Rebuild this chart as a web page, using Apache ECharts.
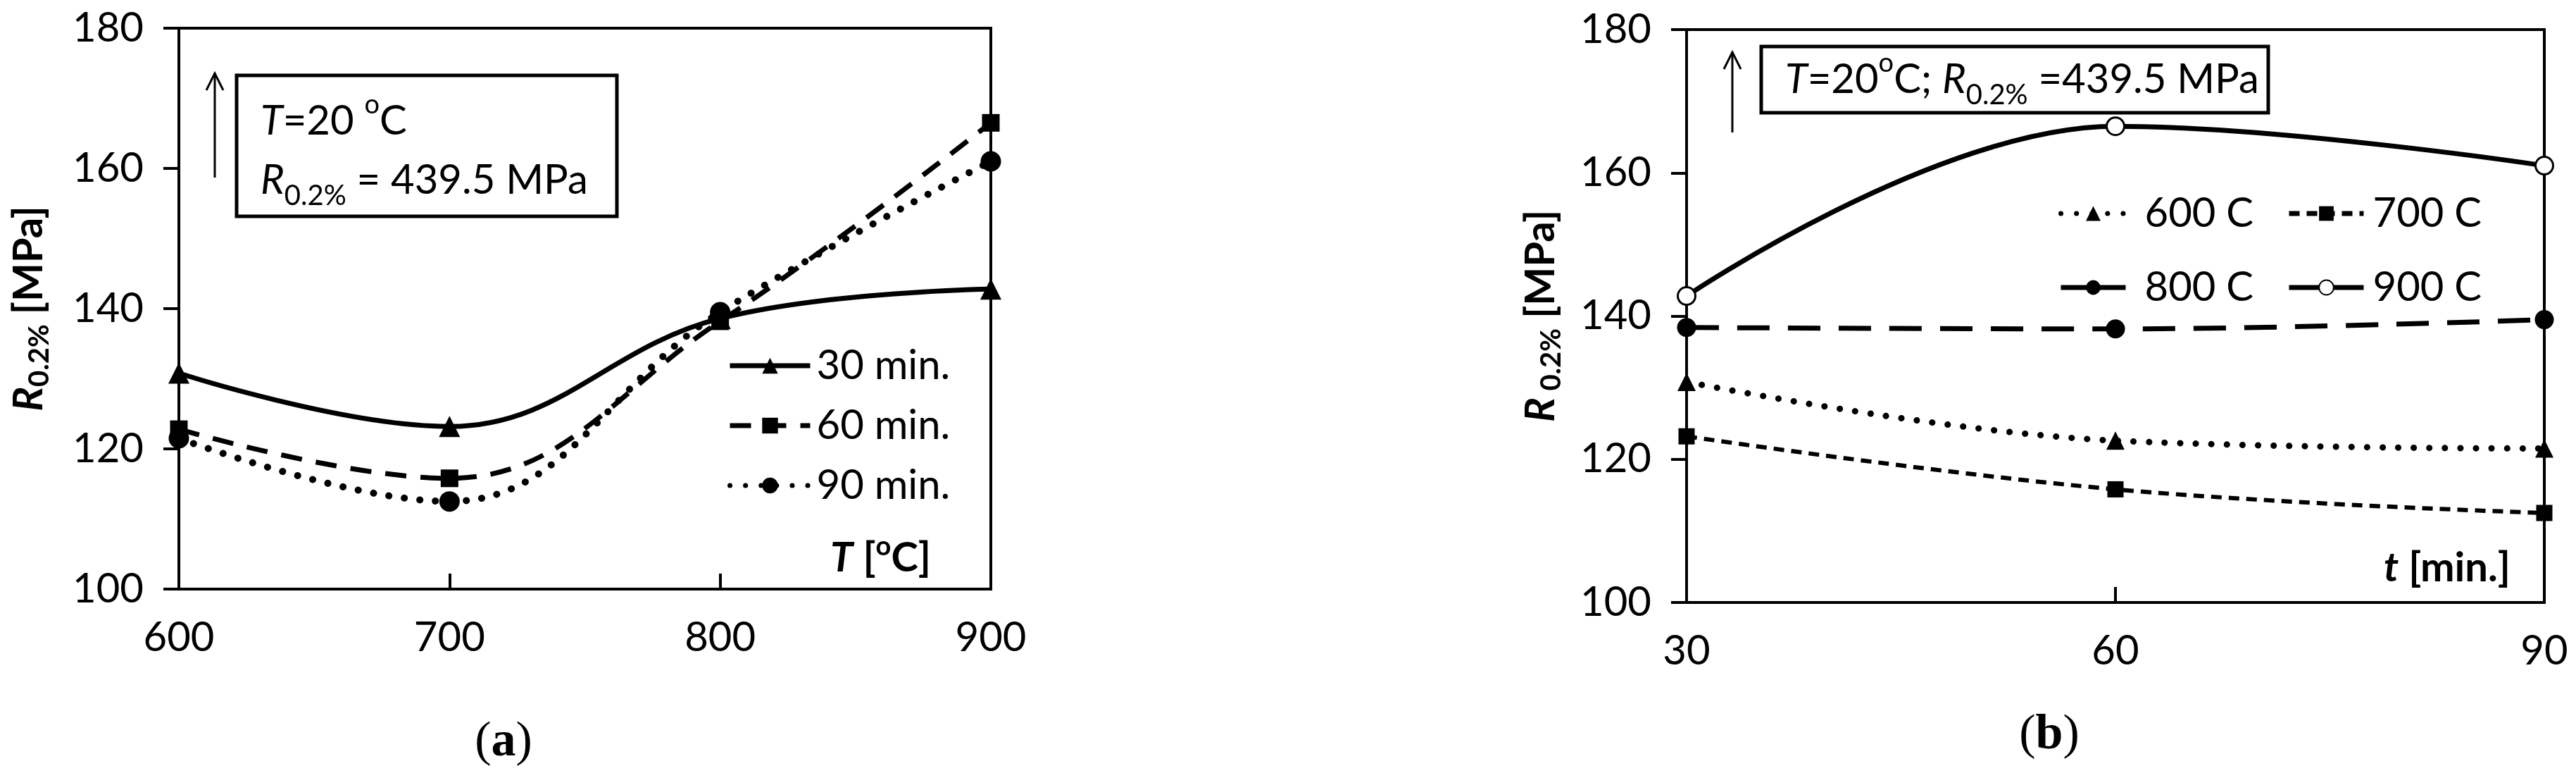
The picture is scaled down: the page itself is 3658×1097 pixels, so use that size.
<!DOCTYPE html>
<html>
<head>
<meta charset="utf-8">
<title>R0.2% after annealing</title>
<script src="https://cdn.jsdelivr.net/npm/echarts@6/dist/echarts.min.js"></script>
<style>
  html, body { margin: 0; padding: 0; background: #fff; }
  #chart { width: 3658px; height: 1097px; }
</style>
</head>
<body>
<div id="chart"></div>
<script>
// ---- data ----
const tempA = [600, 700, 800, 900];          // T [oC], panel (a)
const min30 = [130.8, 123.2, 138.6, 142.8];
const min60 = [122.8, 115.8, 138.2, 166.5];
const min90 = [121.5, 112.5, 139.5, 161.0];

const timeB = [30, 60, 90];                  // t [min.], panel (b)
const c600 = [130.8, 122.6, 121.5];
const c700 = [123.2, 115.8, 112.5];
const c800 = [138.4, 138.2, 139.5];
const c900 = [142.8, 166.5, 161.0];

const yTicks = [100, 120, 140, 160, 180];
const xTicksA = [600, 700, 800, 900];
const xTicksB = [30, 60, 90];

const FONT = "Lato";
const pairs = (xs, ys) => xs.map((x, i) => [x, ys[i]]);

const chart = echarts.init(document.getElementById("chart"), null, { renderer: "canvas" });

const rich = {
  n: { fontFamily: FONT, fontSize: 58, lineHeight: 84, color: "#000" },
  i: { fontFamily: FONT, fontSize: 58, lineHeight: 84, fontStyle: "italic", color: "#000" },
  sub: { fontFamily: FONT, fontSize: 40, lineHeight: 50, verticalAlign: "bottom", color: "#000" },
  sup: { fontFamily: FONT, fontSize: 38, lineHeight: 50, verticalAlign: "top", color: "#000" },
};
const richBold = {
  i: { fontFamily: FONT, fontSize: 58, lineHeight: 70, fontStyle: "italic", fontWeight: "bold", color: "#000" },
  b: { fontFamily: FONT, fontSize: 58, lineHeight: 70, fontWeight: "bold", color: "#000" },
  sub: { fontFamily: FONT, fontSize: 40, lineHeight: 40, verticalAlign: "bottom", fontWeight: "bold", color: "#000" },
  sup: { fontFamily: FONT, fontSize: 38, lineHeight: 40, verticalAlign: "top", fontWeight: "bold", color: "#000" },
};

function yAxis(gridIndex, nameText, gap) {
  return {
    type: "value",
    gridIndex: gridIndex,
    min: yTicks[0],
    max: yTicks[yTicks.length - 1],
    interval: 20,
    name: nameText,
    nameLocation: "middle",
    nameRotate: 90,
    nameGap: gap,
    nameTextStyle: { rich: richBold },
    axisLine: { show: true, lineStyle: { color: "#000", width: 4 } },
    axisTick: { show: true, inside: false, length: 22, lineStyle: { color: "#000", width: 4 } },
    axisLabel: { fontFamily: FONT, fontSize: 58, color: "#000", margin: 50 },
    splitLine: { show: false },
  };
}

function xAxis(gridIndex, ticks) {
  return {
    type: "value",
    gridIndex: gridIndex,
    min: ticks[0],
    max: ticks[ticks.length - 1],
    interval: ticks[1] - ticks[0],
    axisLine: { show: true, onZero: false, lineStyle: { color: "#000", width: 4 } },
    axisTick: { show: true, inside: true, length: 22, lineStyle: { color: "#000", width: 4 } },
    axisLabel: { fontFamily: FONT, fontSize: 58, color: "#000", margin: 40 },
    splitLine: { show: false },
  };
}

const black = "#000";
const legendText = (padLeft) => ({ fontFamily: FONT, fontSize: 58, color: "#000", lineHeight: 60, padding: [0, 0, 0, padLeft] });

const option = {
  animation: false,
  backgroundColor: "#fff",
  grid: [
    { left: 254, top: 40, width: 1153, height: 796, show: true, borderColor: black, borderWidth: 4 },
    { left: 2395, top: 42, width: 1218, height: 813, show: true, borderColor: black, borderWidth: 4 },
  ],
  xAxis: [xAxis(0, xTicksA), xAxis(1, xTicksB)],
  yAxis: [
    yAxis(0, "{i|R}{sub|0.2%}{b| [MPa]}", 178),
    yAxis(1, "{i|R}{sub| 0.2%}{b| [MPa]}", 172),
  ],
  legend: [
    {
      data: ["30 min.", "60 min.", "90 min."],
      orient: "vertical", left: 1028, top: 484,
      itemWidth: 114, itemHeight: 28, itemGap: 25,
      lineStyle: { width: 7 },
      textStyle: legendText(4),
    },
    {
      data: ["600 C", { name: "800 C", lineStyle: { type: "solid" } }],
      orient: "vertical", left: 2918, top: 268,
      itemWidth: 92, itemHeight: 26, itemGap: 45,
      lineStyle: { width: 7 },
      textStyle: legendText(22),
    },
    {
      data: ["700 C", "900 C"],
      orient: "vertical", left: 3242, top: 268,
      itemWidth: 106, itemHeight: 26, itemGap: 45,
      lineStyle: { width: 7 },
      textStyle: legendText(8),
    },
  ],
  series: [
    {
      name: "30 min.", type: "line", xAxisIndex: 0, yAxisIndex: 0, smooth: 0.4,
      data: pairs(tempA, min30), symbol: "triangle", symbolSize: 30,
      lineStyle: { color: black, width: 7 }, itemStyle: { color: black },
    },
    {
      name: "60 min.", type: "line", xAxisIndex: 0, yAxisIndex: 0, smooth: 0.4,
      data: pairs(tempA, min60), symbol: "rect", symbolSize: 25,
      lineStyle: { color: black, width: 7, type: [30, 20] }, itemStyle: { color: black },
    },
    {
      name: "90 min.", type: "line", xAxisIndex: 0, yAxisIndex: 0, smooth: 0.4,
      data: pairs(tempA, min90), symbol: "circle", symbolSize: 29,
      lineStyle: { color: black, width: 10, type: [0.1, 22], cap: "round" }, itemStyle: { color: black },
    },
    {
      name: "600 C", type: "line", xAxisIndex: 1, yAxisIndex: 1, smooth: 0.4,
      data: pairs(timeB, c600), symbol: "triangle", symbolSize: 26,
      lineStyle: { color: black, width: 9, type: [0.1, 22], cap: "round" }, itemStyle: { color: black },
    },
    {
      name: "700 C", type: "line", xAxisIndex: 1, yAxisIndex: 1, smooth: 0.4,
      data: pairs(timeB, c700), symbol: "rect", symbolSize: 23,
      lineStyle: { color: black, width: 6, type: [15, 10] }, itemStyle: { color: black },
    },
    {
      name: "800 C", type: "line", xAxisIndex: 1, yAxisIndex: 1, smooth: 0.4,
      data: pairs(timeB, c800), symbol: "circle", symbolSize: 27,
      lineStyle: { color: black, width: 7, type: [46, 26] }, itemStyle: { color: black },
    },
    {
      name: "900 C", type: "line", xAxisIndex: 1, yAxisIndex: 1, smooth: 0.4,
      data: pairs(timeB, c900), symbol: "circle", symbolSize: 25,
      lineStyle: { color: black, width: 7 },
      itemStyle: { color: "#fff", borderColor: black, borderWidth: 3 },
    },
  ],
  graphic: [
    // panel (a) annotation
    { type: "rect", shape: { x: 336, y: 107, width: 540, height: 200 },
      style: { fill: "none", stroke: black, lineWidth: 5 } },
    { type: "text", x: 370, y: 130,
      style: { text: "{i|T}{n|=20 }{sup|o}{n|C}\n{i|R}{sub|0.2%}{n| = 439.5 MPa}", rich: rich,
               verticalAlign: "top", align: "left" } },
    { type: "line", shape: { x1: 305, y1: 252, x2: 305, y2: 104 }, style: { stroke: black, lineWidth: 3 } },
    { type: "polyline", shape: { points: [[293, 128], [305, 104], [317, 128]] },
      style: { stroke: black, lineWidth: 3, fill: "none" } },
    { type: "text", x: 1322, y: 792,
      style: { text: "{i|T}{b| [}{sup|o}{b|C]}", rich: richBold, align: "right", verticalAlign: "middle" } },
    { type: "text", x: 715, y: 1054,
      style: { text: "({b|a})", fontFamily: "Liberation Serif", fontSize: 70, fill: black,
               rich: { b: { fontFamily: "Liberation Serif", fontSize: 70, fontWeight: "bold", color: black } },
               align: "center", verticalAlign: "middle" } },

    // panel (b) annotation
    { type: "rect", shape: { x: 2501, y: 66, width: 720, height: 94 },
      style: { fill: "none", stroke: black, lineWidth: 5 } },
    { type: "text", x: 2535, y: 113,
      style: { text: "{i|T}{n|=20}{sup|o}{n|C; }{i|R}{sub|0.2%}{n| =439.5 MPa}", rich: rich,
               verticalAlign: "middle", align: "left" } },
    { type: "line", shape: { x1: 2460, y1: 188, x2: 2460, y2: 74 }, style: { stroke: black, lineWidth: 3 } },
    { type: "polyline", shape: { points: [[2448, 98], [2460, 74], [2472, 98]] },
      style: { stroke: black, lineWidth: 3, fill: "none" } },
    { type: "text", x: 3565, y: 806,
      style: { text: "{i|t}{b| [min.]}", rich: richBold, align: "right", verticalAlign: "middle" } },
    { type: "text", x: 2910, y: 1044,
      style: { text: "({b|b})", fontFamily: "Liberation Serif", fontSize: 70, fill: black,
               rich: { b: { fontFamily: "Liberation Serif", fontSize: 70, fontWeight: "bold", color: black } },
               align: "center", verticalAlign: "middle" } },
  ],
};

chart.setOption(option);
</script>
</body>
</html>
